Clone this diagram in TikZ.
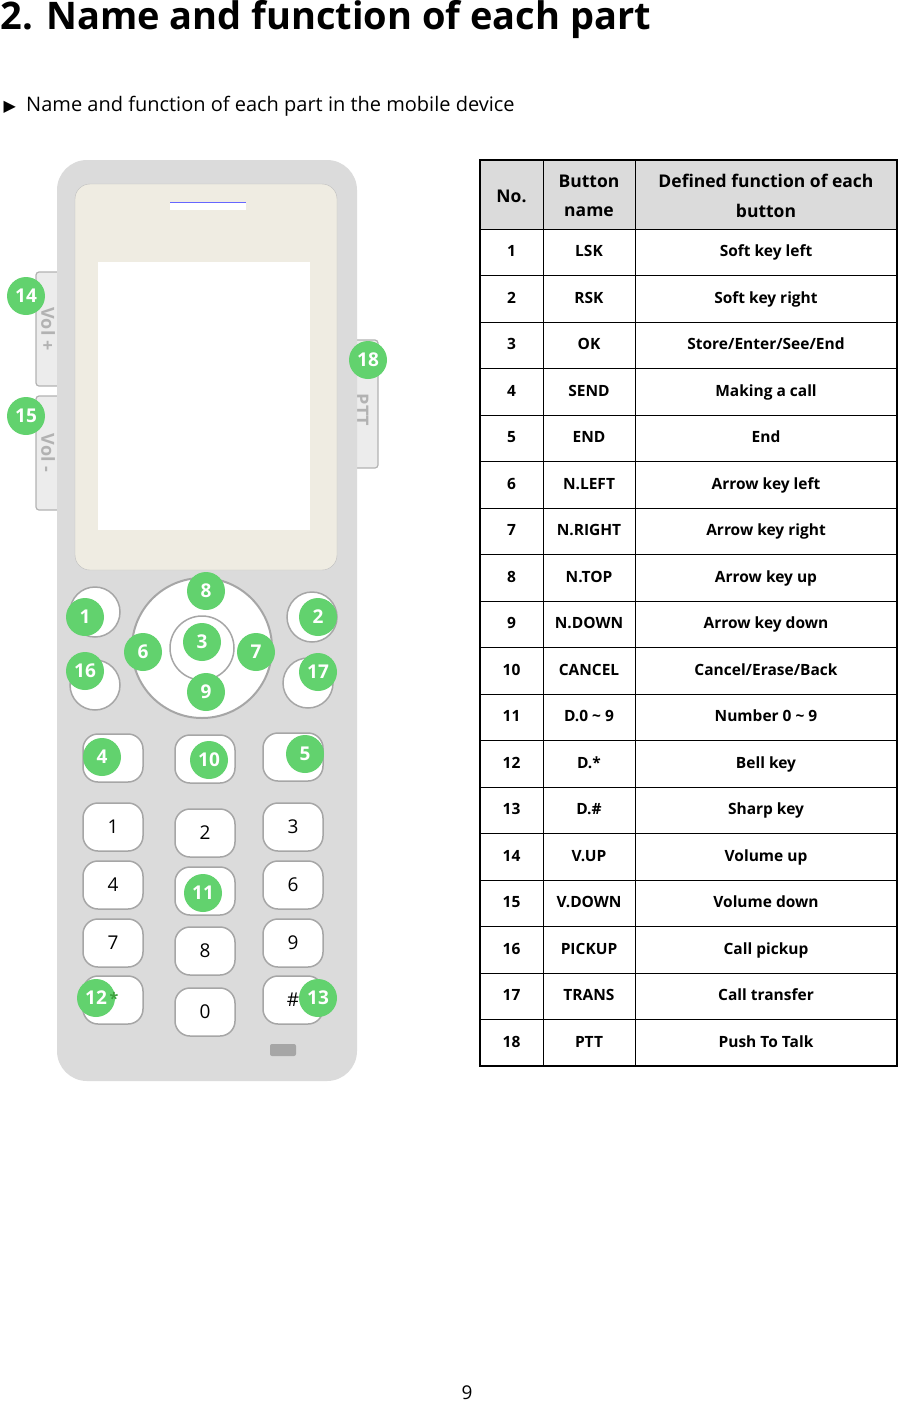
\documentclass[tikz,border=0pt]{standalone}
\usepackage{fontspec}
\setmainfont{Open Sans}
\newfontfamily\dejavu{DejaVu Sans}
\begin{document}
\begin{tikzpicture}[x=1pt,y=-1pt,
 badge/.style={circle,fill={rgb,255:red,98;green,210;blue,110},minimum size=38pt,inner sep=0pt,text=white,font=\bfseries\fontsize{19}{19}\selectfont},
 key/.style={draw=gray!70,line width=1.5pt,fill=white,rounded corners=15pt,minimum width=60pt,minimum height=48pt,font=\fontsize{19}{19}\selectfont},
 soft/.style={draw=gray!70,line width=1.5pt,fill=white,circle,minimum size=50pt},
 side/.style={draw=gray!60,line width=1.2pt,fill=gray!15,rounded corners=3pt},
 cell/.style={font=\bfseries\fontsize{15.5}{15.5}\selectfont}]
\useasboundingbox (0,0) rectangle (898,1406);
\node[anchor=west,font=\bfseries\fontsize{38}{38}\selectfont] (title) at (-3,20) {2. Name and function of each part};
\node[anchor=west,font=\fontsize{20}{20}\selectfont] (sub) at (0,106) {{\dejavu\fontsize{16}{16}\selectfont ▶}\ \ Name and function of each part in the mobile device};
\node[font=\fontsize{19}{19}\selectfont] (pg) at (467,1393) {9};
% side buttons
\draw[side] (36,272) rectangle (66,386);
\draw[side] (36,396) rectangle (66,510);
\draw[side] (348,340) rectangle (378,468);
\node[rotate=-90,text=gray!60,font=\bfseries\fontsize{18}{18}\selectfont] (vp) at (48,329) {Vol +};
\node[rotate=-90,text=gray!60,font=\bfseries\fontsize{18}{18}\selectfont] (vm) at (48,453) {Vol -};
\node[rotate=-90,text=gray!60,font=\bfseries\fontsize{18}{18}\selectfont] (ptt) at (362,410) {PTT};
% body
\fill[gray!28,rounded corners=30pt] (57,160) rectangle (357,1081);
\draw[gray!50,fill={rgb,255:red,239;green,236;blue,226},rounded corners=15pt] (75,184) rectangle (337,570);
\fill[white] (98,262) rectangle (310,530);
\fill[white] (170,202) rectangle (246,210);
\draw[blue!60,line width=1pt] (170,202) -- (246,202);
% nav
\draw[gray!70,line width=2pt,fill=white] (202,648) circle (70);
\draw[gray!70,line width=1.5pt,fill=white] (202,648) circle (32);
% soft keys
\node[soft] (s1) at (95,612) {};
\node[soft] (s2) at (312,617) {};
\node[soft] (s16) at (95,685) {};
\node[soft] (s17) at (308,683) {};
% keys
\node[key] (k4) at (113,758) {};
\node[key] (k10) at (205,759) {};
\node[key] (k5) at (293,757) {};
\node[key] (n1) at (113,827) {1};
\node[key] (n2) at (205,833) {2};
\node[key] (n3) at (293,827) {3};
\node[key] (n4) at (113,885) {4};
\node[key] (n5) at (205,891) {5};
\node[key] (n6) at (293,885) {6};
\node[key] (n7) at (113,943) {7};
\node[key] (n8) at (205,951) {8};
\node[key] (n9) at (293,943) {9};
\node[key] (nst) at (113,1000) {};
\node[key] (n0) at (205,1012) {0};
\node[key] (nsh) at (293,1000) {\#};
\fill[gray!70,rounded corners=2pt] (270,1044) rectangle (296,1056);
% badges
\foreach \n/\x/\y in {14/26/296,15/26/416,18/368/360,1/85/617,2/318/617,8/206/591,3/202/642,6/143/652,7/256/652,9/206/692,16/85/671,17/318/672,4/102/757,10/209/760,5/305/754,11/203/893,12/96/998,13/318/998}
  \node[badge] (b\n) at (\x,\y) {\n};
\node[text={rgb,255:red,60;green,160;blue,60},font=\bfseries\fontsize{16}{16}\selectfont] (ast) at (114,998) {*};
% table
\fill[gray!28] (480,160) rectangle (897,229);
\draw[line width=1.5pt] (480,160) rectangle (897,1066);
\draw[line width=1pt] (543,160) -- (543,1066) (635,160) -- (635,1066);
\foreach \i in {0,...,17} \draw[line width=1pt] (480,{229+\i*46.5}) -- (897,{229+\i*46.5});
\node[cell,font=\bfseries\fontsize{17.5}{17.5}\selectfont] (h1) at (511.5,196) {No.};
\node[cell,font=\bfseries\fontsize{17.5}{17.5}\selectfont,align=center] (h2) at (589,196) {Button\\[12pt]name};
\node[cell,font=\bfseries\fontsize{17.5}{17.5}\selectfont,align=center] (h3) at (766,196) {Defined function of each\\[12pt]button};
\foreach \n/\a/\b [count=\i from 0] in {1/LSK/Soft key left,2/RSK/Soft key right,3/OK/Store\slash Enter\slash See\slash End,4/SEND/Making a call,5/END/End,6/N.LEFT/Arrow key left,7/N.RIGHT/Arrow key right,8/N.TOP/Arrow key up,9/N.DOWN/Arrow key down,10/CANCEL/Cancel\slash Erase\slash Back,11/D.0 \textasciitilde{} 9/Number 0 \textasciitilde{} 9,12/D.*/Bell key,13/D.\#/Sharp key,14/V.UP/Volume up,15/V.DOWN/Volume down,16/PICKUP/Call pickup,17/TRANS/Call transfer,18/PTT/Push To Talk}{
  \node[cell,text height=12pt,text depth=3pt] (r\n a) at (511.5,{252.25+\i*46.5}) {\n};
  \node[cell,text height=12pt,text depth=3pt] (r\n b) at (589,{252.25+\i*46.5}) {\a};
  \node[cell,text height=12pt,text depth=3pt] (r\n c) at (766,{252.25+\i*46.5}) {\b};
}
\end{tikzpicture}
\end{document}
